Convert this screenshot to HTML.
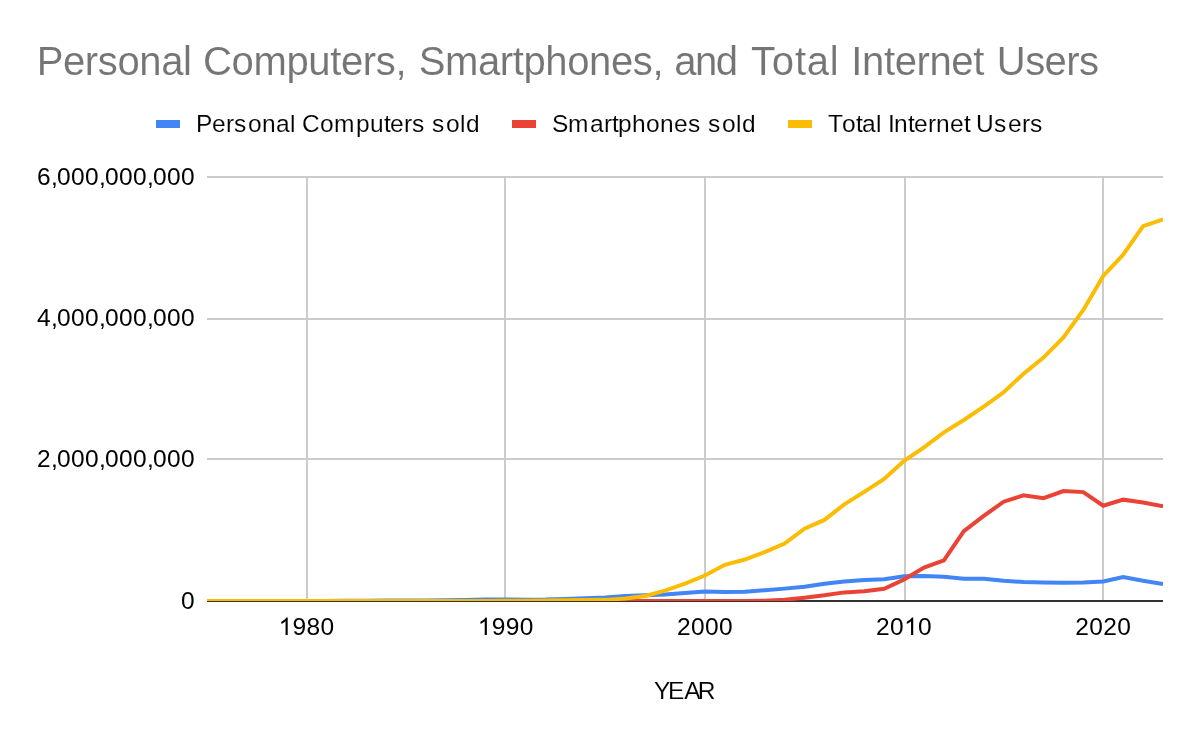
<!DOCTYPE html>
<html><head><meta charset="utf-8">
<style>
html,body{margin:0;padding:0;background:#fff;}
body{width:1200px;height:742px;overflow:hidden;font-family:"Liberation Sans",sans-serif;}
svg{display:block;will-change:transform}
text{font-family:"Liberation Sans",sans-serif;stroke:#ffffff;stroke-width:0.1px;white-space:pre;}
#ylab text,#xlab text{stroke:none;}
</style></head><body>
<svg width="1200" height="742" viewBox="0 0 1200 742">
<rect width="1200" height="742" fill="#ffffff"/>
<g id="title" font-size="40" fill="#757575">
<text x="36.72" y="75" textLength="155.16">Personal</text>
<text x="202.97" y="75" textLength="203.62">Computers,</text>
<text x="418.68" y="75" textLength="244.91">Smartphones,</text>
<text x="674.30" y="75" textLength="63.78">and</text>
<text x="751.10" y="75" textLength="87.57">Total</text>
<text x="851.31" y="75" textLength="132.98">Internet</text>
<text x="996.81" y="75" textLength="102.23">Users</text>
</g>
<g id="legend" font-size="24.5" fill="#000000">
<rect x="156" y="120" width="24" height="8" fill="#4285f4"/>
<text x="195.90 211.90 225.90 233.90 247.90 261.90 275.90 289.90 295.90 301.90 319.90 333.90 355.90 369.90 383.90 389.90 403.90 411.90 425.90 431.90 445.90 459.90 465.90" y="132">Personal Computers sold</text>
<rect x="512" y="120" width="24" height="8" fill="#ea4335"/>
<text x="552.00 568.00 590.00 604.00 612.00 618.00 632.00 646.00 660.00 674.00 688.00 702.00 708.00 722.00 736.00 742.00" y="132">Smartphones sold</text>
<rect x="788" y="120" width="24" height="8" fill="#fbbc04"/>
<text x="828.00 842.00 856.00 862.00 876.00 882.00 888.00 894.00 908.00 914.00 928.00 936.00 950.00 964.00 970.00 976.00 994.00 1008.00 1022.00 1030.00" y="132">Total Internet Users</text>
</g>
<g id="grid" fill="#cccccc">
<rect x="207" y="176" width="956" height="2"/>
<rect x="207" y="318" width="956" height="2"/>
<rect x="207" y="458" width="956" height="2"/>
<rect x="306" y="176" width="2" height="425"/>
<rect x="504" y="176" width="2" height="425"/>
<rect x="704" y="176" width="2" height="425"/>
<rect x="904" y="176" width="2" height="425"/>
<rect x="1102" y="176" width="2" height="425"/>
</g>
<rect id="baseline" x="207" y="600" width="956" height="2" fill="#333333"/>
<defs><clipPath id="cp"><rect x="207" y="150" width="956" height="451"/></clipPath></defs>
<g id="series" clip-path="url(#cp)" fill="none" stroke-width="4" stroke-linejoin="miter">
<path d="M207.00,601.00 L226.92,600.99 L246.83,600.99 L266.75,600.98 L286.67,600.96 L306.58,600.92 L326.50,600.88 L346.42,600.79 L366.33,600.65 L386.25,600.54 L406.17,600.58 L426.08,600.51 L446.00,600.36 L465.92,599.94 L485.83,599.52 L505.75,599.59 L525.67,599.66 L545.58,599.52 L565.50,598.88 L585.42,598.17 L605.33,597.47 L625.25,595.98 L645.17,595.35 L665.08,594.43 L685.00,592.94 L704.92,591.46 L724.83,591.95 L744.75,591.67 L764.67,590.26 L784.58,588.63 L804.50,586.73 L824.42,583.69 L844.33,581.57 L864.25,580.01 L884.17,579.23 L904.08,576.20 L924.00,576.05 L943.92,576.76 L963.83,578.81 L983.75,578.74 L1003.67,580.86 L1023.58,582.06 L1043.50,582.49 L1063.42,582.70 L1083.33,582.56 L1103.25,581.57 L1123.17,576.97 L1143.08,580.79 L1163.00,583.90" stroke="#4285f4"/>
<path d="M207.00,601.00 L226.92,601.00 L246.83,601.00 L266.75,601.00 L286.67,601.00 L306.58,601.00 L326.50,601.00 L346.42,601.00 L366.33,601.00 L386.25,601.00 L406.17,601.00 L426.08,601.00 L446.00,601.00 L465.92,601.00 L485.83,601.00 L505.75,601.00 L525.67,601.00 L545.58,601.00 L565.50,601.00 L585.42,601.00 L605.33,601.00 L625.25,601.00 L645.17,601.00 L665.08,601.00 L685.00,601.00 L704.92,601.00 L724.83,601.00 L744.75,601.00 L764.67,600.65 L784.58,599.73 L804.50,597.68 L824.42,595.28 L844.33,592.38 L864.25,591.18 L884.17,588.85 L904.08,579.45 L924.00,567.65 L943.92,560.37 L963.83,531.04 L983.75,515.85 L1003.67,501.71 L1023.58,495.28 L1043.50,498.18 L1063.42,491.04 L1083.33,492.10 L1103.25,505.74 L1123.17,499.66 L1143.08,502.42 L1163.00,506.31" stroke="#ea4335"/>
<path d="M207.00,601.00 L226.92,601.00 L246.83,601.00 L266.75,601.00 L286.67,601.00 L306.58,601.00 L326.50,601.00 L346.42,601.00 L366.33,601.00 L386.25,601.00 L406.17,601.00 L426.08,601.00 L446.00,601.00 L465.92,601.00 L485.83,601.00 L505.75,600.82 L525.67,600.69 L545.58,600.51 L565.50,600.29 L585.42,600.01 L605.33,599.87 L625.25,598.46 L645.17,595.91 L665.08,590.61 L685.00,583.69 L704.92,575.49 L724.83,564.75 L744.75,559.52 L764.67,552.10 L784.58,543.62 L804.50,528.71 L824.42,519.95 L844.33,504.40 L864.25,491.82 L884.17,478.96 L904.08,460.73 L924.00,447.37 L943.92,432.32 L963.83,419.95 L983.75,406.67 L1003.67,392.25 L1023.58,373.67 L1043.50,357.62 L1063.42,337.48 L1083.33,309.92 L1103.25,275.93 L1123.17,254.66 L1143.08,226.11 L1163.00,219.40" stroke="#fbbc04"/>
</g>
<g id="ylab" font-size="24.5" fill="#000000">
<text x="37.00 51.00 57.00 71.00 85.00 99.00 105.00 119.00 133.00 147.00 153.00 167.00 181.00" y="185">6,000,000,000</text>
<text x="37.00 51.00 57.00 71.00 85.00 99.00 105.00 119.00 133.00 147.00 153.00 167.00 181.00" y="326">4,000,000,000</text>
<text x="37.00 51.00 57.00 71.00 85.00 99.00 105.00 119.00 133.00 147.00 153.00 167.00 181.00" y="467">2,000,000,000</text>
<text x="181.00" y="609">0</text>
</g>
<g id="xlab" font-size="24.5" fill="#000000">
<path d="M287.71,635.00 L285.56,635.00 L285.56,621.28 Q284.78,622.02 283.52,622.76 Q282.26,623.50 281.25,623.87 L281.25,621.79 Q283.06,620.94 284.41,619.74 Q285.76,618.53 286.32,617.39 L287.71,617.39 Z" fill="#000000"/>
<text x="292.58 306.58 320.58" y="635">980</text>
<path d="M486.88,635.00 L484.72,635.00 L484.72,621.28 Q483.95,622.02 482.68,622.76 Q481.42,623.50 480.42,623.87 L480.42,621.79 Q482.22,620.94 483.58,619.74 Q484.93,618.53 485.49,617.39 L486.88,617.39 Z" fill="#000000"/>
<text x="491.75 505.75 519.75" y="635">990</text>
<text x="676.92 690.92 704.92 718.92" y="635">2000</text>
<path d="M913.21,635.00 L911.06,635.00 L911.06,621.28 Q910.28,622.02 909.02,622.76 Q907.76,623.50 906.75,623.87 L906.75,621.79 Q908.56,620.94 909.91,619.74 Q911.26,618.53 911.82,617.39 L913.21,617.39 Z" fill="#000000"/>
<text x="876.08 890.08 918.08" y="635">200</text>
<text x="1075.25 1089.25 1103.25 1117.25" y="635">2020</text>
</g>
<text id="xt" x="654.1 668.1 684.3 697.8" y="699" font-size="24.5" fill="#000000">YEAR</text>
</svg>
</body></html>
